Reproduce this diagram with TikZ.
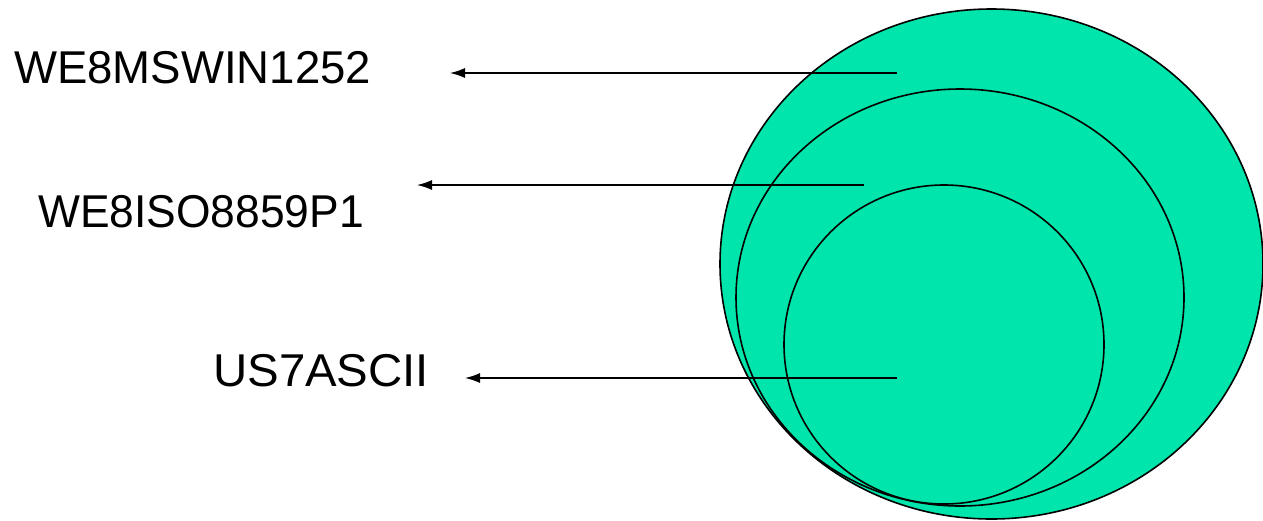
\documentclass[tikz,border=0pt]{standalone}
\usepackage{fontspec}
\setmainfont{Liberation Sans}
\usetikzlibrary{arrows.meta}
\definecolor{setgreen}{HTML}{00E5AB}
\begin{document}
\begin{tikzpicture}[x=1pt,y=-1pt,
  setshape/.style={fill=setgreen,draw=black,line width=1.6pt},
  pointer/.style={draw=black,line width=1.4pt,-{Latex[length=15pt,width=10pt]}},
  label/.style={inner sep=0pt,font=\fontsize{46}{55}\selectfont}]
\useasboundingbox (0,0) rectangle (1263,520);
\path[setshape] (991.5,264) ellipse [x radius=271.5, y radius=255];
\path[setshape] (960,297.5) ellipse [x radius=224, y radius=208.5];
\path[setshape] (944,344.5) ellipse [x radius=160, y radius=159.5];
\node[label,anchor=base west] (win) at (14,83) {\scalebox{0.99}[1]{WE8MSWIN1252}};
\node[label,anchor=base west] (iso) at (38,227) {\scalebox{0.965}[1]{WE8ISO8859P1}};
\node[label,anchor=base west] (ascii) at (213,386) {\scalebox{1.03}[1]{US7ASCII}};
\coordinate (winsrc) at (897,73);
\coordinate (wintip) at (450,73);
\coordinate (isosrc) at (864,185);
\coordinate (isotip) at (417,185);
\coordinate (asciisrc) at (897,378);
\coordinate (asciitip) at (465,378);
\draw[pointer] (winsrc) -- (wintip);
\draw[pointer] (isosrc) -- (isotip);
\draw[pointer] (asciisrc) -- (asciitip);
\end{tikzpicture}
\end{document}
